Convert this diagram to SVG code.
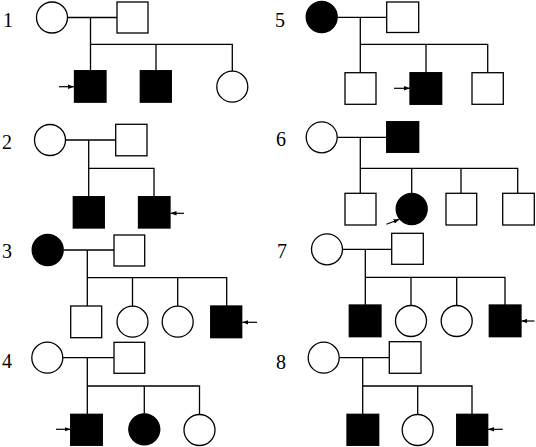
<svg xmlns="http://www.w3.org/2000/svg" width="536" height="447" viewBox="0 0 536 447">
<style>
.w{fill:#fff;stroke:#000;stroke-width:1.3}
.b{fill:#000;stroke:#000;stroke-width:1.3}
.l{fill:none;stroke:#000;stroke-width:1.3}
.a{fill:none;stroke:#000;stroke-width:1.2;marker-end:url(#ah)}
.t{font-family:"Liberation Serif",serif;font-size:20px;fill:#000}
</style>
<defs>
<marker id="ah" viewBox="0 0 8 6" refX="8" refY="3" markerWidth="6" markerHeight="4.5" markerUnits="userSpaceOnUse" orient="auto"><path d="M0,0L8,3L0,6z" fill="#000"/></marker>
</defs>
<rect width="536" height="447" fill="#fff"/>
<g id="connectors">
<!-- family 1 -->
<path class="l" d="M67,17.5H117M90.5,17.5V70.7M90.5,44.3H232.3V71M156,44.3V70.7"/>
<!-- family 2 -->
<path class="l" d="M65.7,140H115.7M88.7,140V196.7M88.7,168.3H154V196.7"/>
<!-- family 3 -->
<path class="l" d="M63.4,250H114M87.3,250V306M87.3,277.7H226.7V306M132.5,277.7V306M177.7,277.7V306"/>
<!-- family 4 -->
<path class="l" d="M63,357.7H114M87.3,357.7V414.3M87.3,386H199.5V414.3M144.3,386V413.6"/>
<!-- family 5 -->
<path class="l" d="M337.4,17.3H386.7M360.3,17.3V72.7M360.3,44.3H487.7V72.7M426,44.3V72.7"/>
<!-- family 6 -->
<path class="l" d="M337.4,137.3H386.7M360.3,137.3V193.3M360.3,168.3H517.7V193.3M411.7,168.3V193.3M461,168.3V193.3"/>
<!-- family 7 -->
<path class="l" d="M342.7,249.3H391.7M365.3,249.3V305M365.3,277.3H505V305M411,277.3V305.3M456.7,277.3V305.3"/>
<!-- family 8 -->
<path class="l" d="M339.4,357.7H389.3M362.7,357.7V414.3M362.7,386H472V414.3M417.7,386V414.3"/>
<!-- proband arrows -->
<path class="a" d="M59,86.7H74"/>
<path class="a" d="M184,213.3H170.5"/>
<path class="a" d="M257,322.3H242.3"/>
<path class="a" d="M56,429.3H70.5"/>
<path class="a" d="M394,88.3H410"/>
<path class="a" d="M386.5,224.3L399.5,219.3"/>
<path class="a" d="M534.5,321H521.3"/>
<path class="a" d="M502.7,429.3H488"/>
</g>
<g id="labels">
<text class="t" x="3" y="27">1</text>
<text class="t" x="2" y="149">2</text>
<text class="t" x="2" y="258">3</text>
<text class="t" x="2" y="368">4</text>
<text class="t" x="275" y="27">5</text>
<text class="t" x="276" y="146">6</text>
<text class="t" x="277" y="258">7</text>
<text class="t" x="276" y="369">8</text>
</g>
<g id="f1-mother"><circle class="w" cx="52" cy="17.5" r="15.5"/></g>
<g id="f1-father"><rect class="w" x="117" y="2" width="31" height="31"/></g>
<g id="f1-son1"><rect class="b" x="74.5" y="70.7" width="31.5" height="31.5"/></g>
<g id="f1-son2"><rect class="b" x="140.3" y="70.7" width="31" height="31.5"/></g>
<g id="f1-daughter"><circle class="w" cx="232.3" cy="86.7" r="15.5"/></g>

<g id="f2-mother"><circle class="w" cx="50" cy="140" r="15.5"/></g>
<g id="f2-father"><rect class="w" x="115.7" y="124.3" width="31.3" height="31.5"/></g>
<g id="f2-son1"><rect class="b" x="73.3" y="196.7" width="31" height="31.3"/></g>
<g id="f2-son2"><rect class="b" x="138.5" y="196.7" width="31.5" height="31.3"/></g>

<g id="f3-mother"><circle class="b" cx="47.7" cy="250" r="15.5"/></g>
<g id="f3-father"><rect class="w" x="114" y="235" width="30.7" height="31"/></g>
<g id="f3-son1"><rect class="w" x="70.7" y="306" width="31" height="31.7"/></g>
<g id="f3-daughter1"><circle class="w" cx="132.5" cy="321.7" r="15.5"/></g>
<g id="f3-daughter2"><circle class="w" cx="177.7" cy="321.7" r="15.5"/></g>
<g id="f3-son2"><rect class="b" x="210.7" y="306" width="31" height="31.7"/></g>

<g id="f4-mother"><circle class="w" cx="47.3" cy="357.7" r="15.5"/></g>
<g id="f4-father"><rect class="w" x="114" y="342.3" width="30.7" height="31"/></g>
<g id="f4-son"><rect class="b" x="70.7" y="414.3" width="31.6" height="31"/></g>
<g id="f4-daughter1"><circle class="b" cx="144.3" cy="429.3" r="15.5"/></g>
<g id="f4-daughter2"><circle class="w" cx="199.5" cy="430" r="15.5"/></g>

<g id="f5-mother"><circle class="b" cx="321.7" cy="17" r="15.5"/></g>
<g id="f5-father"><rect class="w" x="386.7" y="2" width="32" height="30.5"/></g>
<g id="f5-son1"><rect class="w" x="345" y="72.7" width="31" height="31.6"/></g>
<g id="f5-son2"><rect class="b" x="410" y="72.7" width="31.7" height="31.6"/></g>
<g id="f5-son3"><rect class="w" x="472" y="72.7" width="31.3" height="31.6"/></g>

<g id="f6-mother"><circle class="w" cx="321.7" cy="137.3" r="15.5"/></g>
<g id="f6-father"><rect class="b" x="386.7" y="121.7" width="32" height="30.6"/></g>
<g id="f6-son1"><rect class="w" x="345" y="193.3" width="31" height="31.7"/></g>
<g id="f6-daughter"><circle class="b" cx="411.7" cy="209" r="15.5"/></g>
<g id="f6-son2"><rect class="w" x="446" y="193.3" width="30.7" height="31.7"/></g>
<g id="f6-son3"><rect class="w" x="502.7" y="193.3" width="31.6" height="31.7"/></g>

<g id="f7-mother"><circle class="w" cx="327" cy="249.3" r="15.5"/></g>
<g id="f7-father"><rect class="w" x="391.7" y="233.3" width="31.6" height="31"/></g>
<g id="f7-son1"><rect class="b" x="349.3" y="305" width="31.7" height="31.7"/></g>
<g id="f7-daughter1"><circle class="w" cx="411" cy="321" r="15.5"/></g>
<g id="f7-daughter2"><circle class="w" cx="456.7" cy="321" r="15.5"/></g>
<g id="f7-son2"><rect class="b" x="489.3" y="305" width="31.7" height="31.7"/></g>

<g id="f8-mother"><circle class="w" cx="323.7" cy="357.7" r="15.5"/></g>
<g id="f8-father"><rect class="w" x="389.3" y="341.7" width="31.7" height="31.6"/></g>
<g id="f8-son1"><rect class="b" x="347" y="414.3" width="31.7" height="31"/></g>
<g id="f8-daughter"><circle class="w" cx="417.7" cy="430" r="15.5"/></g>
<g id="f8-son2"><rect class="b" x="456.7" y="414.3" width="31" height="31"/></g>
</svg>
